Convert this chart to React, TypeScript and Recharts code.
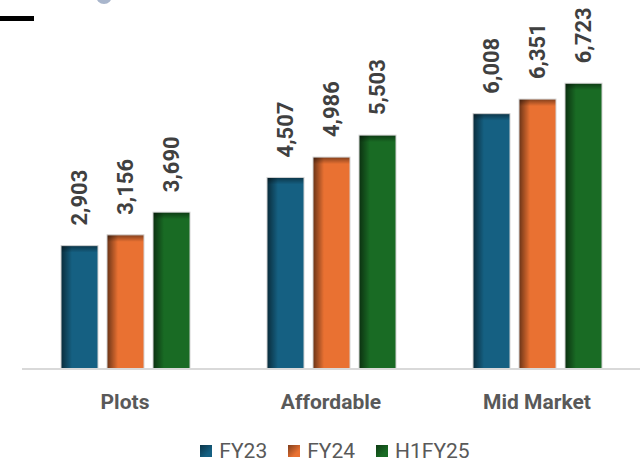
import React from 'react';
import { BarChart, Bar, XAxis, YAxis, Legend, LabelList } from 'recharts';

const categories = ['Plots', 'Affordable', 'Mid Market'];
const fy23 = [2903, 4507, 6008];
const fy24 = [3156, 4986, 6351];
const h1fy25 = [3690, 5503, 6723];

const series = [
  { key: 'FY23', values: fy23, color: '#156082' },
  { key: 'FY24', values: fy24, color: '#E97132' },
  { key: 'H1FY25', values: h1fy25, color: '#196B24' },
];

const data = categories.map((name, i) => {
  const row: Record<string, string | number> = { name };
  series.forEach((s) => {
    row[s.key] = s.values[i];
  });
  return row;
});

const FONT = 'Roboto, "Liberation Sans", Arial, sans-serif';

// bar with a soft inner shadow along the left and top edges
const ShadedBar = (props: any) => {
  const { x, y, width, height, fill } = props;
  if (!height || height <= 0) return null;
  return (
    <g>
      <rect x={x} y={y} width={width} height={height} fill={fill} />
      <rect x={x} y={y} width={Math.min(11, width)} height={height} fill="url(#shadeLeft)" />
      <rect x={x} y={y} width={width} height={Math.min(7, height)} fill="url(#shadeTop)" />
      <rect
        x={x}
        y={y}
        width={width}
        height={height}
        fill="none"
        stroke="#d4d4d4"
        strokeWidth={1}
      />
    </g>
  );
};

const renderValue = (props: any) => {
  const { x, y, width, value } = props;
  const cx = x + width / 2;
  const by = y - 20;
  return (
    <text
      x={cx}
      y={by}
      transform={`rotate(-90 ${cx} ${by})`}
      dy="0.36em"
      textAnchor="start"
      fontFamily={FONT}
      fontSize={22}
      fontWeight={700}
      fill="#404040"
    >
      {Number(value).toLocaleString('en-US')}
    </text>
  );
};

const CategoryTick = (props: any) => {
  const { x, y, payload } = props;
  return (
    <text
      x={x}
      y={y}
      dy="0.71em"
      textAnchor="middle"
      fontFamily={FONT}
      fontSize={21}
      fontWeight={700}
      fill="#595959"
    >
      {payload.value}
    </text>
  );
};

const LegendRow = () => (
  <div
    style={{
      display: 'flex',
      justifyContent: 'center',
      alignItems: 'center',
      height: 24,
      paddingTop: 2,
      boxSizing: 'border-box',
      fontFamily: FONT,
      fontSize: 21,
      color: '#595959',
      paddingLeft: 8,
    }}
  >
    {series.map((s, i) => (
      <div
        key={s.key}
        style={{ display: 'flex', alignItems: 'center', marginLeft: i === 0 ? 0 : 21 }}
      >
        <span
          style={{
            display: 'inline-block',
            width: 12,
            height: 12,
            marginRight: 7,
            background: `linear-gradient(135deg, rgba(0,0,0,0.45), rgba(0,0,0,0) 70%), ${s.color}`,
          }}
        />
        <span style={{ lineHeight: '22px' }}>{s.key}</span>
      </div>
    ))}
  </div>
);

export default function App() {
  return (
    <div style={{ position: 'absolute', left: 0, top: 0, width: 642, height: 462, background: '#fff' }}>
      <div
        style={{ position: 'absolute', left: 0, top: 16, width: 34, height: 5, background: '#000' }}
      />
      <div
        style={{
          position: 'absolute',
          left: 96,
          top: -12,
          width: 16,
          height: 16,
          borderRadius: '50%',
          background: '#a9b6cc',
        }}
      />
      <BarChart
        width={642}
        height={462}
        data={data}
        margin={{ top: 29, right: 2, bottom: 0, left: 22 }}
        barSize={37}
        barGap={9}
      >
        <defs>
          <linearGradient id="shadeLeft" x1="0" y1="0" x2="1" y2="0">
            <stop offset="0%" stopColor="#000" stopOpacity={0.55} />
            <stop offset="100%" stopColor="#000" stopOpacity={0} />
          </linearGradient>
          <linearGradient id="shadeTop" x1="0" y1="0" x2="0" y2="1">
            <stop offset="0%" stopColor="#000" stopOpacity={0.45} />
            <stop offset="100%" stopColor="#000" stopOpacity={0} />
          </linearGradient>
        </defs>
        <XAxis
          dataKey="name"
          height={69}
          axisLine={{ stroke: '#d9d9d9', strokeWidth: 2 }}
          tickLine={false}
          tickSize={0}
          tickMargin={25}
          tick={<CategoryTick />}
          interval={0}
        />
        <YAxis hide domain={[0, 8000]} />
        <Legend verticalAlign="bottom" height={24} content={<LegendRow />} />
        {series.map((s) => (
          <Bar
            key={s.key}
            dataKey={s.key}
            fill={s.color}
            shape={<ShadedBar />}
            isAnimationActive={false}
          >
            <LabelList dataKey={s.key} content={renderValue} />
          </Bar>
        ))}
      </BarChart>
    </div>
  );
}
